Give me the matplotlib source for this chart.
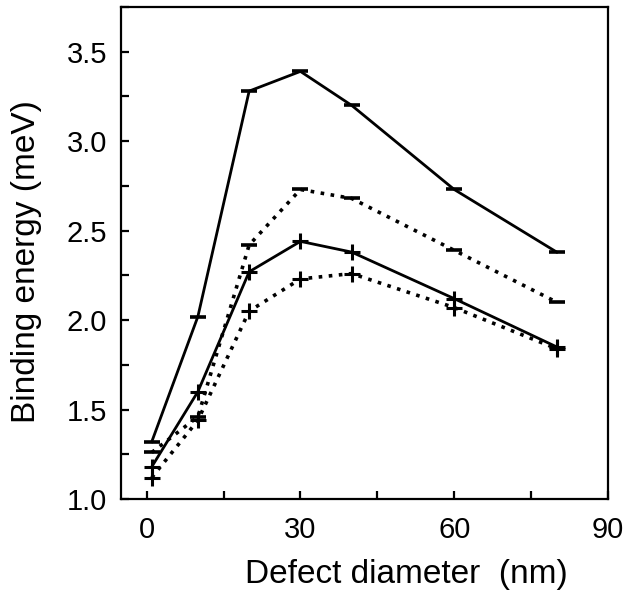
import matplotlib
matplotlib.use("Agg")
import matplotlib.pyplot as plt
from matplotlib.ticker import MultipleLocator

plt.rcParams['font.family'] = ['Liberation Sans', 'DejaVu Sans']

diameter = [1, 10, 20, 30, 40, 60, 80]
solid_minus = [1.32, 2.02, 3.28, 3.39, 3.20, 2.73, 2.38]
dotted_minus = [1.26, 1.46, 2.42, 2.73, 2.68, 2.39, 2.10]
solid_plus = [1.18, 1.60, 2.27, 2.44, 2.38, 2.12, 1.85]
dotted_plus = [1.12, 1.44, 2.05, 2.23, 2.26, 2.07, 1.84]

fig = plt.figure(figsize=(6.23, 5.95), dpi=100)
ax = fig.add_axes([121/623, 1 - 499/595, 487/623, 492/595])

dot = (0, (1, 1.8))
ax.plot(diameter, solid_minus, color='black', lw=2.0, marker='_', ms=11, mew=2.6)
ax.plot(diameter, dotted_minus, color='black', lw=2.6, ls=dot, marker='_', ms=11, mew=2.6)
ax.plot(diameter, solid_plus, color='black', lw=2.0, marker='+', ms=11, mew=2.2)
ax.plot(diameter, dotted_plus, color='black', lw=2.6, ls=dot, marker='+', ms=11, mew=2.2)

ax.set_xlim(-5, 90)
ax.set_ylim(1.0, 3.75)
ax.xaxis.set_major_locator(MultipleLocator(30))
ax.xaxis.set_minor_locator(MultipleLocator(15))
ax.yaxis.set_major_locator(MultipleLocator(0.5))
ax.yaxis.set_minor_locator(MultipleLocator(0.25))
ax.yaxis.set_major_formatter(matplotlib.ticker.FormatStrFormatter('%.1f'))

for s in ax.spines.values():
    s.set_linewidth(1.6)
ax.tick_params(which='both', direction='in', length=6, width=1.6,
               top=False, right=False, labelsize=21)
ax.tick_params(axis='x', which='both', pad=12)
ax.tick_params(axis='y', which='both', pad=10)

ax.set_xlabel('Defect diameter  (nm)', fontsize=24)
ax.xaxis.set_label_coords(0.585, -0.122)
ax.set_ylabel('Binding energy (meV)', fontsize=24)
ax.yaxis.set_label_coords(-0.162, 0.482)

fig.savefig('out.png', dpi=100)
